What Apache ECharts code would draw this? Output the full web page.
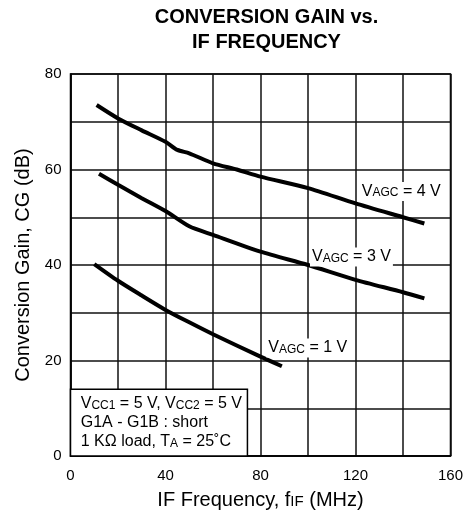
<!DOCTYPE html>
<html><head><meta charset="utf-8">
<script src="https://cdn.jsdelivr.net/npm/echarts@6/dist/echarts.min.js"></script>
<style>html,body{margin:0;padding:0;background:#fff}#c{width:466px;height:517px}</style>
</head><body><div id="c"></div>
<script>
// ---- data ----
var freq4 = [11, 20, 30, 40, 45, 50, 60, 70, 80, 100, 120, 140, 149];
var gain4 = [73.5, 70.7, 68.2, 65.8, 64.1, 63.4, 61.3, 60.0, 58.5, 56.1, 52.9, 50.0, 48.7];
var freq3 = [12, 20, 30, 40, 50, 60, 80, 100, 120, 140, 149];
var gain3 = [59.1, 56.8, 54.0, 51.3, 48.1, 46.3, 42.8, 40.0, 36.9, 34.3, 33.0];
var freq1 = [10, 20, 30, 40, 50, 60, 80, 89];
var gain1 = [40.2, 36.7, 33.6, 30.6, 28.0, 25.5, 20.8, 18.8];
var curveNames = ['4', '3', '1'];
var labelX = [139.3, 118.3, 99.9];
var labelY = [55.4, 41.7, 22.6];
var xTicks = [0, 40, 80, 120, 160];
var yTicks = [0, 20, 40, 60, 80];
var noteBox = [[0, 0], [74.5, 14]];

var FF = 'Liberation Sans, Arial, sans-serif';
function zip(a, b) { return a.map(function (v, i) { return [v, b[i]]; }); }
var rich = {
  v: { fontSize: 16, fontFamily: FF, color: '#000', lineHeight: 19 },
  s: { fontSize: 12, fontFamily: FF, color: '#000', lineHeight: 12, padding: [3, 0, 0, 0] }
};
function curveLabel(i) {
  return {
    coord: [labelX[i], labelY[i]],
    label: {
      show: true, position: 'inside',
      formatter: '{v|V}{s|AGC}{v| = ' + curveNames[i] + ' V}',
      rich: rich, backgroundColor: '#fff', padding: [0, 2]
    }
  };
}
function lineSeries(x, y, i, extra) {
  var s = {
    type: 'line', data: zip(x, y), showSymbol: false, symbol: 'none', smooth: 0.25,
    lineStyle: { color: '#000', width: 4 }, silent: true, z: 3,
    markPoint: { symbol: 'circle', symbolSize: 0, silent: true, data: [curveLabel(i)] }
  };
  if (extra) for (var k in extra) s[k] = extra[k];
  return s;
}
var chart = echarts.init(document.getElementById('c'), null, { renderer: 'canvas' });
chart.setOption({
  animation: false,
  backgroundColor: '#fff',
  title: {
    text: 'CONVERSION GAIN vs.\nIF FREQUENCY',
    left: 261.5, top: 0.5, textAlign: 'center',
    textStyle: { fontFamily: FF, fontWeight: 'bold', fontSize: 20, lineHeight: 24.5, color: '#000' }
  },
  grid: { left: 70.5, right: 13.5, top: 74, bottom: 61, show: true, borderColor: '#000', borderWidth: 1.5, backgroundColor: 'transparent' },
  xAxis: {
    type: 'value', min: 0, max: 160, interval: 20,
    name: '{n|IF Frequency, f}{s|IF}{n| (MHz)}', nameLocation: 'middle', nameGap: 32.5,
    nameTextStyle: { fontFamily: FF, fontSize: 20, color: '#000',
      rich: { n: { fontFamily: FF, fontSize: 20, color: '#000', lineHeight: 23 }, s: { fontFamily: FF, fontSize: 15, color: '#000', lineHeight: 15, padding: [4, 0, 0, 0] } } },
    axisLine: { show: true, lineStyle: { color: '#000', width: 1.5 } },
    axisTick: { show: false },
    splitLine: { show: true, lineStyle: { color: '#111', width: 1.5 } },
    axisLabel: { fontFamily: FF, fontSize: 15, color: '#000', margin: 12,
      formatter: function (v) { return xTicks.indexOf(v) >= 0 ? String(v) : ''; } }
  },
  yAxis: {
    type: 'value', min: 0, max: 80, interval: 10,
    name: 'Conversion Gain, CG (dB)', nameLocation: 'middle', nameGap: 32.5,
    nameTextStyle: { fontFamily: FF, fontSize: 20, color: '#000' },
    axisLine: { show: true, lineStyle: { color: '#000', width: 1.5 } },
    axisTick: { show: false },
    splitLine: { show: true, lineStyle: { color: '#111', width: 1.5 } },
    axisLabel: { fontFamily: FF, fontSize: 15, color: '#000', margin: 9,
      formatter: function (v) { return yTicks.indexOf(v) >= 0 ? String(v) : ''; } }
  },
  series: [
    lineSeries(freq4, gain4, 0),
    lineSeries(freq3, gain3, 1),
    lineSeries(freq1, gain1, 2, {
      markArea: {
        silent: true,
        itemStyle: { color: '#fff', borderColor: '#000', borderWidth: 1.5 },
        label: {
          show: true, position: 'insideTopLeft', distance: 0, padding: [6, 0, 0, 11],
          formatter: '{v|V}{s|CC1}{v| = 5 V, V}{s|CC2}{v| = 5 V}\n{v|G1A - G1B : short}\n{v|1 KΩ load, T}{s|A}{v| = 25˚C}',
          rich: rich
        },
        data: [[{ coord: noteBox[0] }, { coord: noteBox[1] }]]
      }
    })
  ]
});
</script></body></html>
